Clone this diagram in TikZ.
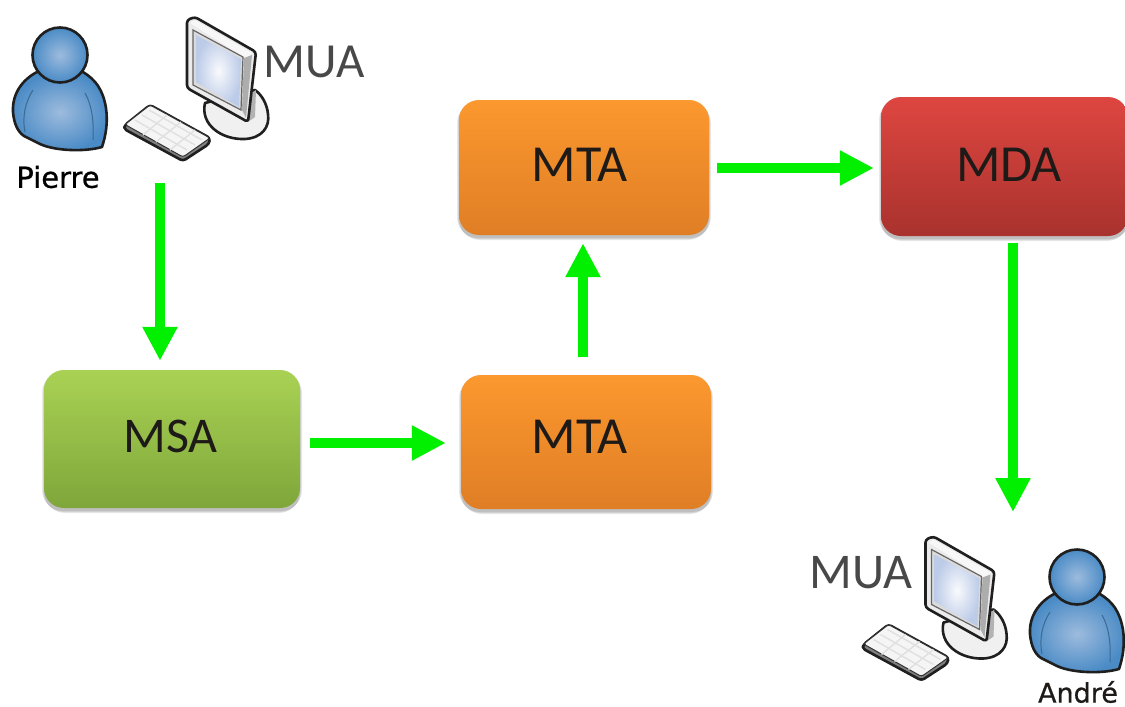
\documentclass[tikz,border=0pt]{standalone}
\usepackage{fontspec}
\setmainfont{Carlito}
\newfontfamily\lblfont[FakeBold=0.7]{DejaVu Sans}
\usetikzlibrary{arrows.meta,calc}
\definecolor{txt}{HTML}{1E1A18}
\definecolor{muatxt}{HTML}{484848}
\definecolor{flowgreen}{HTML}{00F000}
\definecolor{personblue}{HTML}{4A8BC6}
\definecolor{personlight}{HTML}{9DBBDD}
\definecolor{personline}{HTML}{3A6A92}
\definecolor{screenblue}{HTML}{BCCBE8}
\definecolor{greentop}{HTML}{A9D254}
\definecolor{greenbot}{HTML}{7FA63A}
\definecolor{orangetop}{HTML}{FB982E}
\definecolor{orangemid}{HTML}{F6952F}
\definecolor{orangebot}{HTML}{E07E26}
\definecolor{redtop}{HTML}{DE4640}
\definecolor{redbot}{HTML}{A9322E}
\newcommand{\boxlabel}[3]{\raisebox{-#2}[0pt][0pt]{\makebox[0pt]{\hspace*{#1}#3}}}
\tikzset{
  x=1pt,y=-1pt,
  flow/.style={draw=flowgreen,line width=10pt,-{Triangle[length=34pt,width=33pt]}},
  boxbase/.style={rounded corners=20pt,minimum height=#1,inner sep=0pt,font=\fontsize{52}{60}\selectfont,text=txt,anchor=center},
  softedge/.style={fill=black,opacity=0.09,rounded corners=21pt},
  outline/.style={draw=black!88,line width=2.6pt,line join=round},
  person/.pic={
    \path[outline,inner color=personlight,outer color=personblue,shading=radial]
      (37,72) .. controls (22,80) and (12,94) .. (13,112)
      .. controls (14,124) and (18,132) .. (24,136)
      .. controls (32,140) and (36,142) .. (40,144)
      .. controls (55,151) and (85,152) .. (102,147)
      .. controls (106,135) and (108,122) .. (106,108)
      .. controls (103,90) and (96,80) .. (83,72) -- cycle;
    \draw[draw=personline,line width=1pt] (33,90) .. controls (25,102) and (22,118) .. (25,132);
    \draw[draw=personline,line width=1pt] (85,93) .. controls (92,105) and (94,122) .. (93,140);
    \path[outline,inner color=personlight,outer color=personblue,shading=radial]
      (60,55) circle[radius=27.5pt];
  },
  computer/.pic={
    \path[outline,fill=black!6] (205,103) .. controls (200,125) and (222,140) .. (245,139)
      .. controls (262,138) and (270,127) .. (268,114) .. controls (267,104) and (262,95) .. (255,90) -- cycle;
    \fill[black!30] (243,100) -- (256,90) -- (255,117) -- (248,122) -- cycle;
    \path[outline,fill=black!50,rounded corners=3pt]
      (125,125) -- (150,105) -- (210,138) -- (209,144) -- (183,161) -- (124,129) -- cycle;
    \path[draw=black!80,line width=1pt,fill=black!4,rounded corners=2.5pt]
      (125,124.5) -- (150,105) -- (210,138) -- (183,157) -- cycle;
    \draw[draw=black!12,line width=1.4pt] (135,120) -- (187,150) (142,115) -- (195,145) (149,110) -- (202,140);
    \draw[draw=black!12,line width=1.4pt] (143,135) -- (167,115) (156,142) -- (181,122) (170,150) -- (195,130);
    \path[outline,fill=black!8,rounded corners=3pt] (187,20) -- (195,17) -- (256,52) -- (248,122) -- (187,88) -- cycle;
    \fill[black!3] (190,23) -- (195,20) -- (252,53) -- (248,60) -- cycle;
    \fill[black!32] (244,58) -- (252,55) -- (246,118) -- (242,110) -- cycle;
    \draw[draw=black!60,line width=1.2pt,fill=black!14] (193,30) -- (243,57) -- (241,110) -- (193,85) -- cycle;
    \path[inner color=white!90!screenblue,outer color=screenblue,shading=radial]
      (196,35) -- (241,59) -- (239,107) -- (196,82) -- cycle;
  }
}
\begin{document}
\begin{tikzpicture}
\useasboundingbox (0,0) rectangle (1125,707);
\fill[white] (0,0) rectangle (1125,707);
% soft shadows
\foreach \a/\b in {0/5,1/4,2/3}{
  \fill[softedge] (44-\a,370+\a) rectangle (300+\a,508+\b);
  \fill[softedge] (461-\a,375+\a) rectangle (711+\a,509+\b);
  \fill[softedge] (459-\a,100+\a) rectangle (709+\a,235+\b);
  \fill[softedge] (881-\a,97+\a) rectangle (1128+\a,236+\b);
}
% boxes
\node[boxbase=138pt,minimum width=256pt,top color=greentop,bottom color=greenbot,font=\fontsize{50}{60}\selectfont] (msa) at (172,439) {\boxlabel{-3pt}{13pt}{MSA}};
\node[boxbase=134pt,minimum width=250pt,top color=orangetop,middle color=orangemid,bottom color=orangebot] (mtab) at (586,442) {\boxlabel{-13pt}{11.5pt}{MTA}};
\node[boxbase=135pt,minimum width=250pt,top color=orangetop,middle color=orangemid,bottom color=orangebot] (mtat) at (584,167.5) {\boxlabel{-9pt}{14pt}{MTA}};
\node[boxbase=139pt,minimum width=247pt,top color=redtop,bottom color=redbot] (mda) at (1004.5,166.5) {\boxlabel{9pt}{15pt}{MDA}};
% icons
\pic at (0,0) {person};
\pic at (0,0) {computer};
\pic at (1017,522) {person};
\pic at (738.5,519.5) {computer};
% labels
\node[font=\lblfont\fontsize{29}{34}\selectfont,text=black,inner sep=0pt] (pierre) at (58,177) {Pierre};
\node[font=\lblfont\fontsize{27}{32}\selectfont,text=txt,inner sep=0pt] (andre) at (1078,692) {André};
\node[font=\fontsize{49}{60}\selectfont,text=muatxt,inner sep=0pt] (mua1) at (314,62) {MUA};
\node[font=\fontsize{50}{60}\selectfont,text=muatxt,inner sep=0pt] (mua2) at (861,572.5) {MUA};
% free ends
\coordinate (s1) at (160,183);
\coordinate (s5) at (1013,243);
\coordinate (e5) at (1013,512);
\coordinate (y2) at (0,443);
\coordinate (x3) at (583,0);
\coordinate (y4) at (0,168);
% connectors
\draw[flow,shorten >=9pt] (s1) -- (s1 |- msa.north);
\draw[flow,shorten <=10pt,shorten >=15pt] (y2 -| msa.east) -- (y2 -| mtab.west);
\draw[flow,shorten <=18pt,shorten >=8pt] (x3 |- mtab.north) -- (x3 |- mtat.south);
\draw[flow,shorten <=8pt,shorten >=7pt] (y4 -| mtat.east) -- (y4 -| mda.west);
\draw[flow] (s5) -- (e5);
\end{tikzpicture}
\end{document}
